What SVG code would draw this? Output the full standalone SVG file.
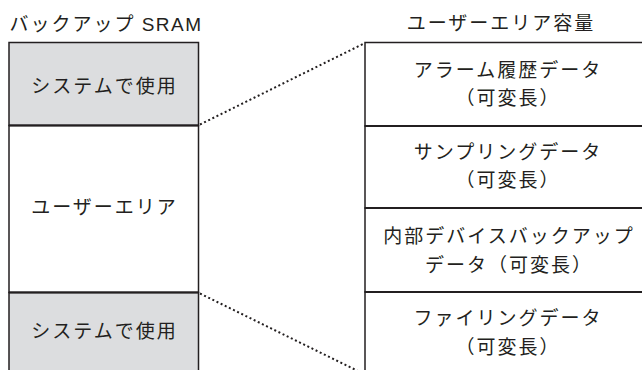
<svg xmlns="http://www.w3.org/2000/svg" width="642" height="370" viewBox="0 0 642 370">
<style>
  .t { font-family: "Noto Sans CJK JP", "Noto Sans", sans-serif; font-size: 19px; fill: #231f20; letter-spacing: 2px; text-anchor: middle; }
  .lat { font-family: "Liberation Sans", Arial, sans-serif; letter-spacing: 1.5px; }
  .box { stroke: #231f20; stroke-width: 1.5; }
  .sys { fill: #dcdddf; }
  .usr { fill: #ffffff; }
  .div { stroke: #231f20; stroke-width: 2; fill: none; }
  .dot { stroke: #231f20; stroke-width: 2; stroke-dasharray: 2 2.6; fill: none; }
</style>
<rect width="642" height="370" fill="#ffffff"/>
<g id="title-left"><text class="t" x="106" y="31">バックアップ <tspan class="lat">SRAM</tspan></text></g>
<g id="title-right"><text class="t" x="501" y="30">ユーザーエリア容量</text></g>

<g id="sram-system-top">
  <rect class="box sys" x="9" y="42.5" width="189.5" height="83"/>
  <text class="t" x="104.5" y="93">システムで使用</text>
</g>
<g id="sram-user">
  <rect class="box usr" x="9" y="125.5" width="189.5" height="167"/>
  <text class="t" x="104.5" y="214">ユーザーエリア</text>
</g>
<g id="sram-system-bottom">
  <rect class="box sys" x="9" y="292.5" width="189.5" height="90"/>
  <text class="t" x="104.5" y="338">システムで使用</text>
</g>

<g id="ua-alarm">
  <rect class="box usr" x="365" y="42.5" width="290" height="83.5"/>
  <text class="t" x="508" y="77">アラーム履歴データ</text>
  <text class="t" x="508" y="105">（可変長）</text>
</g>
<g id="ua-sampling">
  <rect class="box usr" x="365" y="126" width="290" height="82"/>
  <text class="t" x="508" y="159">サンプリングデータ</text>
  <text class="t" x="508" y="187">（可変長）</text>
</g>
<g id="ua-device">
  <rect class="box usr" x="365" y="208" width="290" height="84"/>
  <text class="t" x="509" y="243">内部デバイスバックアップ</text>
  <text class="t" x="509" y="272">データ（可変長）</text>
</g>
<g id="ua-filing">
  <rect class="box usr" x="365" y="292" width="290" height="90"/>
  <text class="t" x="508" y="325">ファイリングデータ</text>
  <text class="t" x="508" y="354">（可変長）</text>
</g>

<g id="connectors">
  <line class="div" x1="9" y1="125.5" x2="198.5" y2="125.5"/>
  <line class="div" x1="9" y1="292.5" x2="198.5" y2="292.5"/>
  <line class="div" x1="365" y1="126" x2="642" y2="126"/>
  <line class="div" x1="365" y1="208" x2="642" y2="208"/>
  <line class="div" x1="365" y1="292" x2="642" y2="292"/>
  <line class="dot" x1="200" y1="124.5" x2="364" y2="43.5"/>
  <line class="dot" x1="200" y1="293.5" x2="364" y2="374"/>
</g>
</svg>
